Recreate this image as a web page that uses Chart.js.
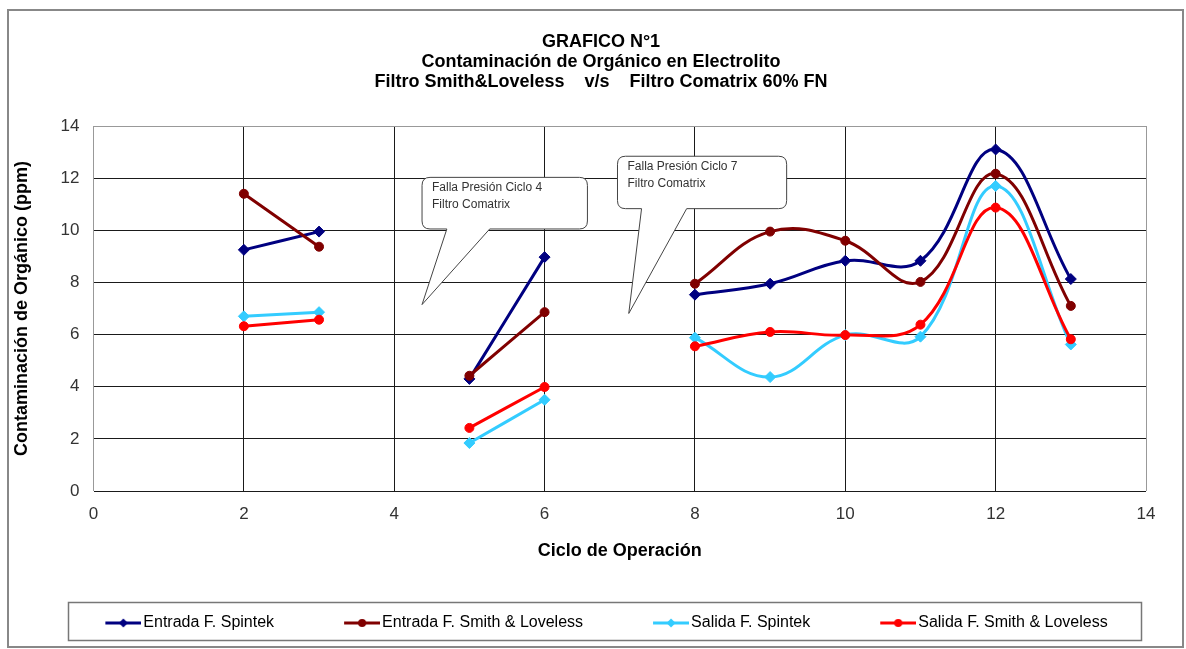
<!DOCTYPE html>
<html>
<head>
<meta charset="utf-8">
<title>GRAFICO N°1</title>
<script src="https://cdn.jsdelivr.net/npm/chart.js@4.4.1/dist/chart.umd.min.js"></script>
<style>
  html, body { margin: 0; padding: 0; background: #fff; }
  #wrap { position: relative; width: 1186px; height: 649px; }
</style>
</head>
<body>
<div id="wrap"><canvas id="chart"></canvas></div>
<script>
"use strict";

// ciclos de operación (4 y 7 sin dato: falla de presión)
const cycles = [2, 3, 4, 5, 6, 7, 8, 9, 10, 11, 12, 13];
const entradaSpintek = [9.25, 9.95, null, 4.3, 8.97, null, 7.53, 7.95, 8.83, 8.83, 13.1, 8.13];
const entradaSmith   = [11.4, 9.37, null, 4.42, 6.86, null, 7.95, 9.95, 9.6, 8.02, 12.17, 7.1];
const salidaSpintek  = [6.7, 6.86, null, 1.84, 3.5, null, 5.88, 4.37, 5.98, 5.92, 11.7, 5.62];
const salidaSmith    = [6.32, 6.57, null, 2.42, 3.99, null, 5.55, 6.1, 5.98, 6.38, 10.87, 5.82];

const seriesNames = ['Entrada F. Spintek', 'Entrada F. Smith & Loveless', 'Salida F. Spintek', 'Salida F. Smith & Loveless'];
const seriesColors = ['#000080', '#800000', '#33CCFF', '#FF0000'];
const seriesMarkers = ['rectRot', 'circle', 'rectRot', 'circle'];

const xTicks = [0, 2, 4, 6, 8, 10, 12, 14];
const yTicks = [0, 2, 4, 6, 8, 10, 12, 14];

const titleLines = [
  'GRAFICO N°1',
  'Contaminación de Orgánico en Electrolito',
  'Filtro Smith&Loveless    v/s    Filtro Comatrix 60% FN'
];

// globos de texto, en unidades de los ejes
const callouts = [
  { x0: 4.37, x1: 6.57, yTop: 12.03, yBottom: 10.05, base0: 4.70, base1: 5.27, tipX: 4.37, tipY: 7.15,
    lines: ['Falla Presión Ciclo 4', 'Filtro Comatrix'] },
  { x0: 6.97, x1: 9.22, yTop: 12.84, yBottom: 10.83, base0: 7.29, base1: 7.89, tipX: 7.12, tipY: 6.81,
    lines: ['Falla Presión Ciclo 7', 'Filtro Comatrix'] }
];

(() => {
  const FONT = 'Liberation Sans, Arial, sans-serif';
  const LEGEND_BOX = 87;

  const toPoints = (values) => cycles.map((c, i) => ({ x: c, y: values[i] }));

  // line + marker sample for the legend
  const legendImage = (color, marker) => {
    const c = document.createElement('canvas');
    c.width = LEGEND_BOX + 12;
    c.height = 14;
    const g = c.getContext('2d');
    g.strokeStyle = color;
    g.fillStyle = color;
    g.lineWidth = 3;
    g.beginPath();
    g.moveTo(c.width - 36, 7);
    g.lineTo(c.width, 7);
    g.stroke();
    const cx = c.width - 18;
    g.beginPath();
    if (marker === 'circle') {
      g.arc(cx, 7, 4, 0, Math.PI * 2);
    } else {
      g.moveTo(cx, 2.5); g.lineTo(cx + 4.5, 7); g.lineTo(cx, 11.5); g.lineTo(cx - 4.5, 7);
      g.closePath();
    }
    g.fill();
    return c;
  };

  const allSeries = [entradaSpintek, entradaSmith, salidaSpintek, salidaSmith];

  const datasets = allSeries.map((values, i) => ({
    label: seriesNames[i],
    data: toPoints(values),
    borderColor: seriesColors[i],
    backgroundColor: seriesColors[i],
    borderWidth: 3,
    pointStyle: seriesMarkers[i],
    pointRadius: seriesMarkers[i] === 'circle' ? 4.5 : 5.5,
    pointBorderWidth: 1,
    tension: 0.4,
    spanGaps: false,
    order: allSeries.length - i
  }));

  const nudge = {
    id: 'nudge',
    afterLayout(chart) {
      const t = chart.titleBlock;
      const shift = 601 - (t.left + t.right) / 2;
      t.left += shift;
      t.right += shift;
    }
  };

  const balloons = {
    id: 'balloons',
    afterDatasetsDraw(chart) {
      const { ctx, scales: { x, y } } = chart;
      ctx.save();
      callouts.forEach((c) => {
        const L = x.getPixelForValue(c.x0), R = x.getPixelForValue(c.x1);
        const T = y.getPixelForValue(c.yTop), B = y.getPixelForValue(c.yBottom);
        const b0 = x.getPixelForValue(c.base0), b1 = x.getPixelForValue(c.base1);
        const tx = x.getPixelForValue(c.tipX), ty = y.getPixelForValue(c.tipY);
        const r = 8;
        ctx.beginPath();
        ctx.moveTo(L + r, T);
        ctx.lineTo(R - r, T);
        ctx.quadraticCurveTo(R, T, R, T + r);
        ctx.lineTo(R, B - r);
        ctx.quadraticCurveTo(R, B, R - r, B);
        ctx.lineTo(b1, B);
        ctx.lineTo(tx, ty);
        ctx.lineTo(b0, B);
        ctx.lineTo(L + r, B);
        ctx.quadraticCurveTo(L, B, L, B - r);
        ctx.lineTo(L, T + r);
        ctx.quadraticCurveTo(L, T, L + r, T);
        ctx.closePath();
        ctx.fillStyle = '#fff';
        ctx.fill();
        ctx.strokeStyle = '#444';
        ctx.lineWidth = 1;
        ctx.stroke();
        ctx.fillStyle = '#333';
        ctx.font = '12px ' + FONT;
        ctx.textBaseline = 'middle';
        c.lines.forEach((line, i) => ctx.fillText(line, L + 10, T + 10 + i * 17));
      });
      ctx.restore();
    }
  };

  const frames = {
    id: 'frames',
    afterDraw(chart) {
      const { ctx, legend } = chart;
      ctx.save();
      // outer chart border
      ctx.strokeStyle = '#888';
      ctx.lineWidth = 2;
      ctx.strokeRect(8, 10, 1175, 637);
      // legend border
      const boxes = legend.legendHitBoxes;
      if (boxes && boxes.length) {
        const first = boxes[0], last = boxes[boxes.length - 1];
        const left = first.left + LEGEND_BOX - 30 - 37;
        const right = last.left + last.width + 34;
        ctx.strokeStyle = '#777';
        ctx.lineWidth = 1.5;
        ctx.strokeRect(Math.round(left) + 0.5, Math.round(legend.top) + 0.5,
          Math.round(right - left), Math.round(legend.bottom - legend.top) - 1);
      }
      ctx.restore();
    }
  };

  const config = {
    type: 'line',
    data: { datasets },
    options: {
      responsive: true,
      maintainAspectRatio: false,
      animation: false,
      events: [],
      layout: { padding: { left: 10, right: 40, top: 10, bottom: 8 } },
      plugins: {
        tooltip: { enabled: false },
        title: {
          display: true,
          text: titleLines,
          color: '#000',
          font: { family: FONT, size: 18, weight: 'bold', lineHeight: 20 / 18 },
          padding: { top: 22, bottom: 34 }
        },
        legend: {
          position: 'bottom',
          labels: {
            usePointStyle: true,
            pointStyleWidth: LEGEND_BOX,
            padding: 13,
            color: '#333',
            font: { family: FONT, size: 16 },
            generateLabels: (chart) => chart.data.datasets.map((ds, i) => ({
              text: ds.label,
              pointStyle: legendImage(seriesColors[i], seriesMarkers[i]),
              fillStyle: seriesColors[i],
              strokeStyle: seriesColors[i],
              lineWidth: 0,
              hidden: false,
              datasetIndex: i
            }))
          }
        }
      },
      scales: {
        x: {
          type: 'linear',
          min: 0,
          max: 14,
          afterBuildTicks: (scale) => { scale.ticks = xTicks.map((v) => ({ value: v })); },
          ticks: { color: '#333', padding: 13, font: { family: FONT, size: 17 } },
          grid: {
            drawTicks: false,
            color: (c) => (c.tick && (c.tick.value === 0 || c.tick.value === 14)) ? '#999' : '#1a1a1a'
          },
          border: { display: false },
          title: {
            display: true,
            text: 'Ciclo de Operación',
            color: '#000',
            font: { family: FONT, size: 18, weight: 'bold' },
            padding: { top: 3, bottom: 40 }
          }
        },
        y: {
          min: 0,
          max: 14,
          afterBuildTicks: (scale) => { scale.ticks = yTicks.map((v) => ({ value: v })); },
          ticks: { color: '#333', padding: 14, font: { family: FONT, size: 17 } },
          grid: {
            drawTicks: false,
            color: (c) => (c.tick && c.tick.value === 14) ? '#999' : '#1a1a1a'
          },
          border: { display: false },
          title: {
            display: true,
            text: 'Contaminación de Orgánico (ppm)',
            color: '#000',
            font: { family: FONT, size: 18, weight: 'bold' },
            padding: { top: 1, bottom: 14 }
          }
        }
      }
    },
    plugins: [nudge, balloons, frames]
  };

  new Chart(document.getElementById('chart'), config);
})();
</script>
</body>
</html>
